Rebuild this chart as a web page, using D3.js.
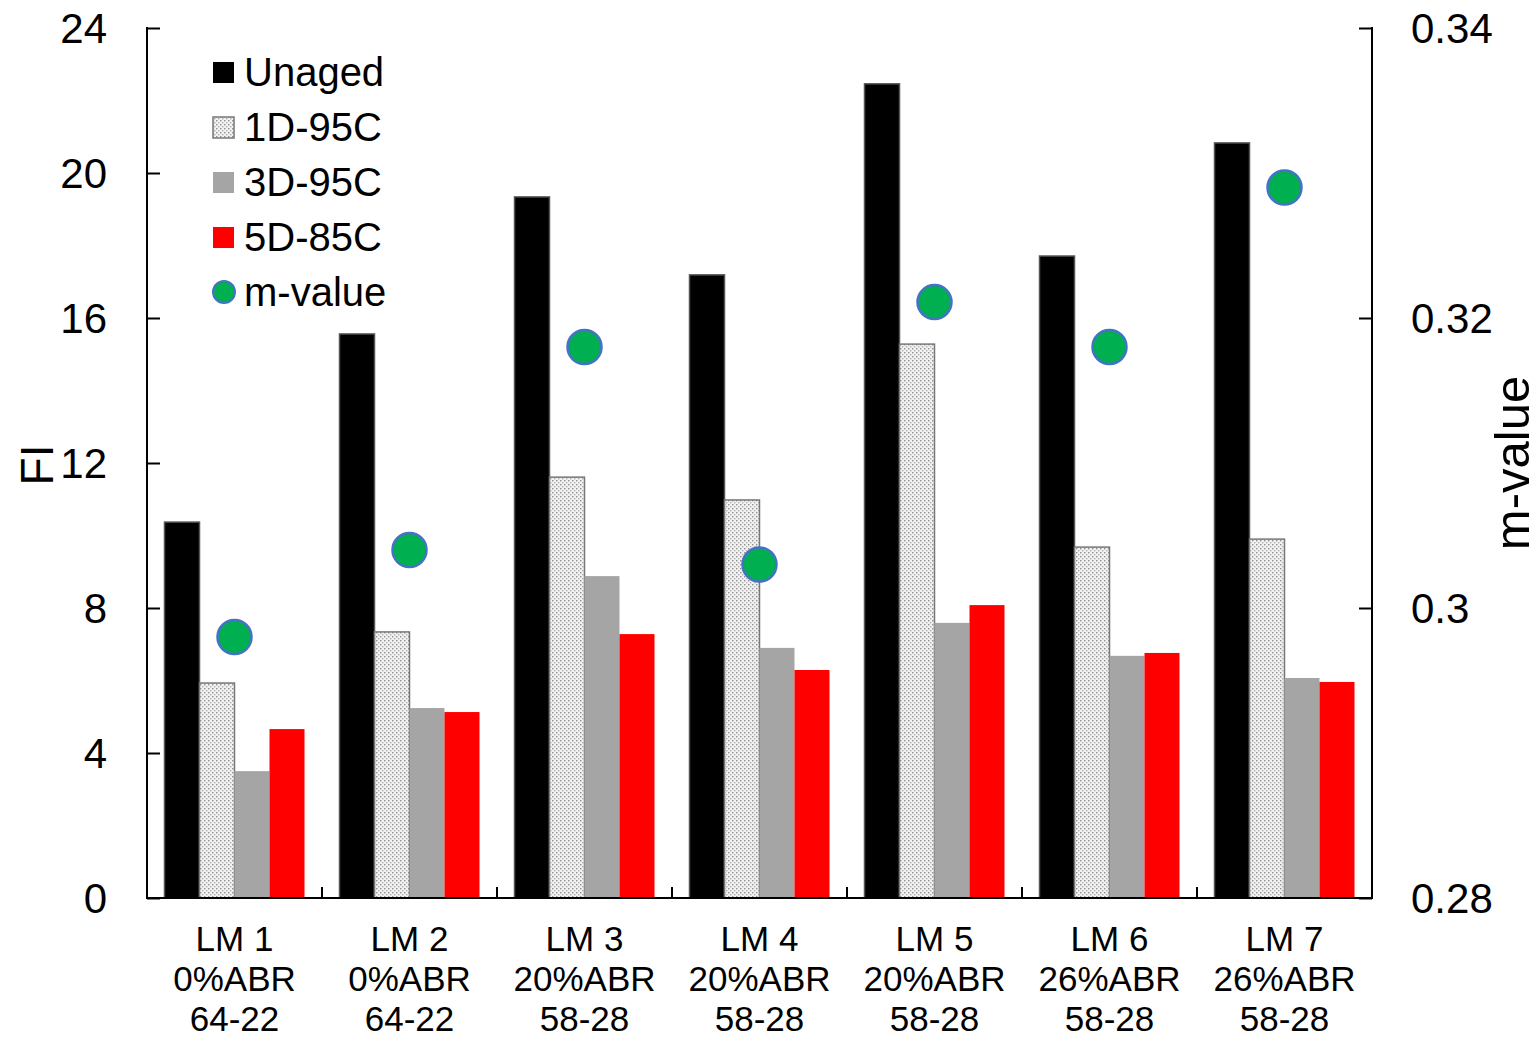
<!DOCTYPE html>
<html><head><meta charset="utf-8">
<script src="https://cdn.jsdelivr.net/npm/d3@7"></script>
<style>body{margin:0;background:#fff}svg{display:block}text{font-family:"Liberation Sans",Arial,sans-serif;fill:#000}</style>
</head><body>
<svg id="c" width="1539" height="1041"></svg>
<script>
const categories = ["LM 1","LM 2","LM 3","LM 4","LM 5","LM 6","LM 7"];
const catLine2 = ["0%ABR","0%ABR","20%ABR","20%ABR","20%ABR","26%ABR","26%ABR"];
const catLine3 = ["64-22","64-22","58-28","58-28","58-28","58-28","58-28"];
const seriesNames = ["Unaged","1D-95C","3D-95C","5D-85C"];
const unaged = [10.37,15.56,19.34,17.19,22.46,17.71,20.83];
const d1_95 = [5.93,7.34,11.61,10.98,15.28,9.68,9.90];
const d3_95 = [3.50,5.24,8.88,6.90,7.59,6.68,6.07];
const d5_85 = [4.66,5.13,7.28,6.29,8.08,6.76,5.96];
const mValue = [0.298,0.304,0.318,0.303,0.3211,0.318,0.329];
const leftTicks = [0,4,8,12,16,20,24];
const rightTicks = [0.28,0.30,0.32,0.34];
const rightTickLabels = ["0.28","0.3","0.32","0.34"];

const svg = d3.select("#c");
const L=147, R=1372, T=28, B=898;
const defs = svg.append("defs");
const pat = defs.append("pattern").attr("id","dots").attr("patternUnits","userSpaceOnUse").attr("width",4).attr("height",4);
pat.append("rect").attr("width",4).attr("height",4).attr("fill","#f2f2f2");
pat.append("rect").attr("x",0).attr("y",0).attr("width",1.4).attr("height",1.4).attr("fill","#8f8f8f");
pat.append("rect").attr("x",2).attr("y",2).attr("width",1.4).attr("height",1.4).attr("fill","#b0b0b0");

const x0 = d3.scaleBand().domain(categories).range([L,R]);
const x1 = d3.scaleBand().domain(seriesNames).range([17.5, x0.bandwidth()-17.5]);
const y = d3.scaleLinear().domain([0,24]).range([B,T]);
const y2 = d3.scaleLinear().domain([0.28,0.34]).range([B,T]);

const fills = {"Unaged":"#000","1D-95C":"url(#dots)","3D-95C":"#a5a5a5","5D-85C":"#ff0000"};
const strokes = {"Unaged":"#555","1D-95C":"#777","3D-95C":"none","5D-85C":"none"};
const data = [unaged,d1_95,d3_95,d5_85];

const g = svg.append("g");
categories.forEach((c,i)=>{
  seriesNames.forEach((s,j)=>{
    const v = data[j][i];
    g.append("rect").attr("x",x0(c)+x1(s)).attr("y",y(v)).attr("width",x1.bandwidth()).attr("height",B-y(v))
      .attr("fill",fills[s]).attr("stroke",strokes[s]).attr("stroke-width",strokes[s]==="none"?0:1.5);
  });
});

// axes
const ax = svg.append("g").attr("transform",`translate(${L},0)`).call(d3.axisRight(y).tickValues(leftTicks).tickSize(13).tickFormat(""));
ax.select(".domain").remove();
ax.selectAll("line").attr("stroke","#000").attr("stroke-width",2);
const ax2 = svg.append("g").attr("transform",`translate(${R},0)`).call(d3.axisLeft(y2).tickValues(rightTicks).tickSize(13).tickFormat(""));
ax2.select(".domain").remove();
ax2.selectAll("line").attr("stroke","#000").attr("stroke-width",2);
svg.append("line").attr("x1",L).attr("x2",L).attr("y1",T-1).attr("y2",B+1).attr("stroke","#000").attr("stroke-width",2);
svg.append("line").attr("x1",R).attr("x2",R).attr("y1",T-1).attr("y2",B+1).attr("stroke","#000").attr("stroke-width",2);
svg.append("line").attr("x1",L).attr("x2",R).attr("y1",B).attr("y2",B).attr("stroke","#000").attr("stroke-width",2);
// x boundary ticks
const bounds = categories.slice(1).map(c=>x0(c));
svg.selectAll(".xt").data(bounds).enter().append("line").attr("x1",d=>d).attr("x2",d=>d).attr("y1",B).attr("y2",B-11).attr("stroke","#000").attr("stroke-width",2);

// tick labels
svg.selectAll(".yl").data(leftTicks).enter().append("text").attr("x",107).attr("y",d=>y(d)).attr("dy","0.36em")
  .attr("text-anchor","end").attr("font-size",42).text(d=>d);
svg.selectAll(".yr").data(rightTicks).enter().append("text").attr("x",1411).attr("y",d=>y2(d)).attr("dy","0.36em")
  .attr("text-anchor","start").attr("font-size",42).text((d,i)=>rightTickLabels[i]);

// category labels
categories.forEach((c,i)=>{
  const cx = x0(c)+x0.bandwidth()/2;
  [c,catLine2[i],catLine3[i]].forEach((t,k)=>{
    svg.append("text").attr("x",cx).attr("y",939+k*40).attr("dy","0.35em").attr("text-anchor","middle").attr("font-size",35).text(t);
  });
});

// axis titles
svg.append("text").attr("transform",`translate(36,465) rotate(-90)`).attr("dy","0.36em").attr("text-anchor","middle").attr("font-size",46).text("FI");
svg.append("text").attr("transform",`translate(1511,463) rotate(-90)`).attr("dy","0.36em").attr("text-anchor","middle").attr("font-size",49).text("m-value");

// m-value points
svg.selectAll(".pt").data(mValue).enter().append("circle")
  .attr("cx",(d,i)=>x0(categories[i])+x0.bandwidth()/2).attr("cy",d=>y2(d)).attr("r",17)
  .attr("fill","#00b050").attr("stroke","#4472c4").attr("stroke-width",2.5);

// legend
const legItems = seriesNames.concat(["m-value"]);
legItems.forEach((s,i)=>{
  const cy = 72+i*55;
  if(i<4){
    svg.append("rect").attr("x",213).attr("y",cy-10).attr("width",21).attr("height",21).attr("fill",fills[s])
      .attr("stroke",s==="1D-95C"?"#777":"none").attr("stroke-width",1.5);
  } else {
    svg.append("circle").attr("cx",224).attr("cy",cy).attr("r",11).attr("fill","#00b050").attr("stroke","#4472c4").attr("stroke-width",2);
  }
  svg.append("text").attr("x",244).attr("y",cy).attr("dy","0.36em").attr("font-size",40).text(s);
});
</script>
</body></html>
